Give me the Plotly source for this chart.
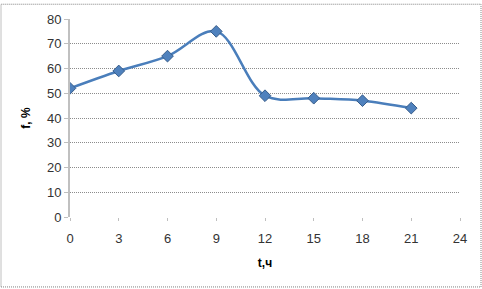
import plotly.graph_objects as go

t_hours = [0, 3, 6, 9, 12, 15, 18, 21]
f_percent = [52, 59, 65, 75, 49, 48, 47, 44]
x_ticks = [0, 3, 6, 9, 12, 15, 18, 21, 24]
y_ticks = [0, 10, 20, 30, 40, 50, 60, 70, 80]

W, H = 482, 289
L, R, T, B = 70, 22, 16, 72
pw, ph = W - L - R, H - T - B

fig = go.Figure()
fig.add_trace(go.Scatter(
    x=t_hours, y=f_percent, mode="lines+markers",
    line=dict(color="#4a7ebb", width=2.5, shape="spline", smoothing=1.0),
    marker=dict(symbol="diamond", size=9, color="#4f81bd",
                line=dict(color="#385d8a", width=1)),
    showlegend=False,
))

fam = "Liberation Sans, Arial, sans-serif"
tickfont = dict(family=fam, size=13, color="#333333")

fig.update_layout(
    width=W, height=H,
    margin=dict(l=L, r=R, t=T, b=B),
    paper_bgcolor="white", plot_bgcolor="white",
    font=dict(family=fam, size=12, color="#333333"),
    xaxis=dict(
        range=[0, 24], tickvals=x_ticks, ticktext=[str(v) for v in x_ticks],
        showgrid=False, zeroline=False, showline=False,
        ticks="outside", ticklen=3, tickcolor="#bfbfbf",
        ticklabelstandoff=6,
        tickfont=tickfont,
        title=dict(text="<b>t,ч</b>", font=dict(family=fam, size=12, color="#000"), standoff=14),
    ),
    yaxis=dict(
        range=[0, 80], tickvals=y_ticks,
        showgrid=True, gridcolor="#8c8c8c", griddash="1px,1px", gridwidth=1,
        zeroline=False, showline=True, linecolor="#c0c0c0", linewidth=2,
        ticks="outside", ticklen=4, tickcolor="#bfbfbf",
        tickfont=tickfont,
        title=dict(text="<b>f, %</b>", font=dict(family=fam, size=12, color="#000"), standoff=14),
    ),
    shapes=[dict(
        type="rect", xref="paper", yref="paper",
        x0=-(L - 1) / pw, x1=1 + (R - 1) / pw,
        y0=-(B - 1) / ph, y1=1 + (T - 1) / ph,
        line=dict(color="#808080", width=1, dash="1px,1px"),
    )],
)

fig.write_html("out.html")
